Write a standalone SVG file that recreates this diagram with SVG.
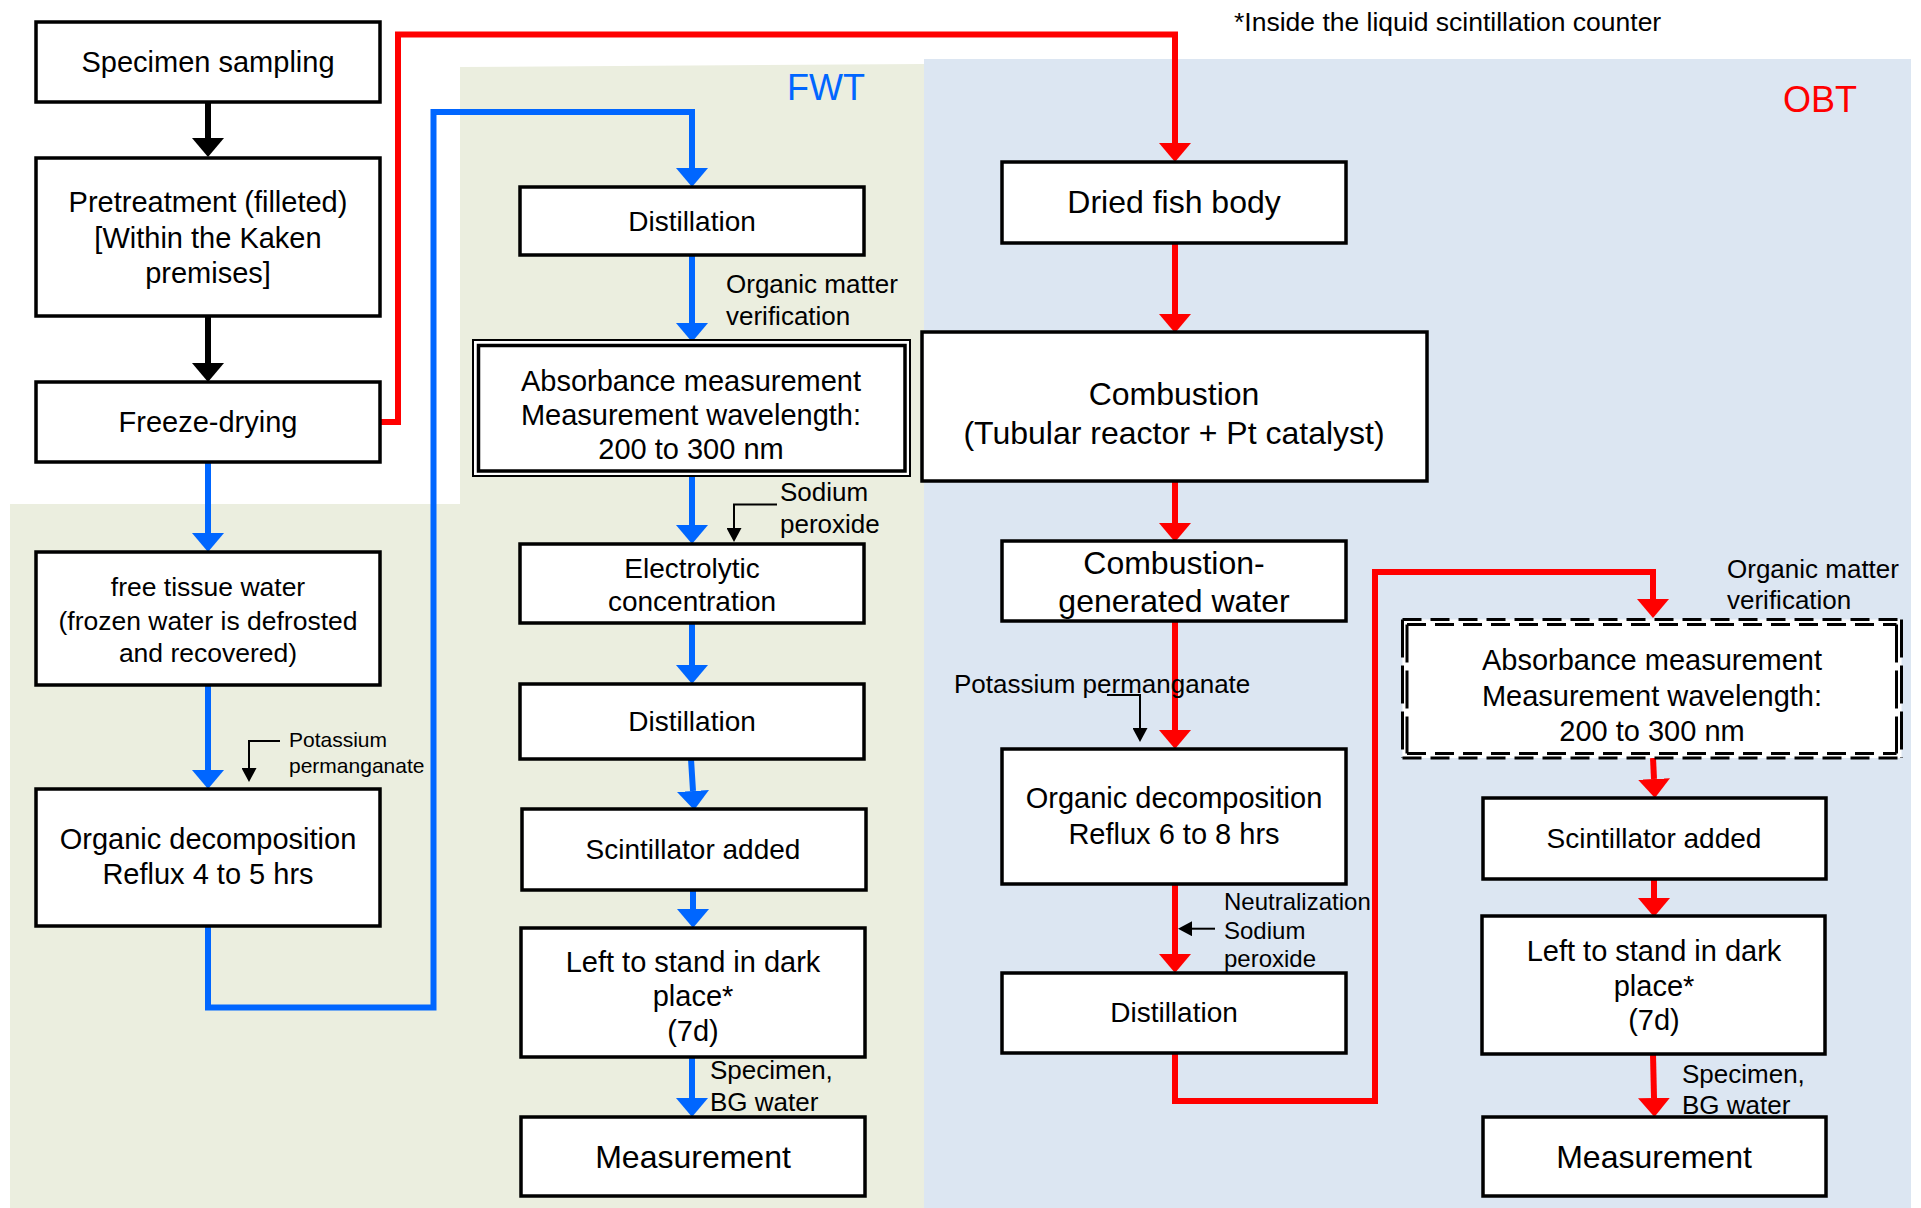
<svg xmlns="http://www.w3.org/2000/svg" width="1921" height="1208" viewBox="0 0 1921 1208">
  <style>
    text { font-family: "Liberation Sans", Arial, sans-serif; fill: #000; }
    .c { text-anchor: middle; }
    .f32 { font-size: 32px; }
    .f29 { font-size: 29px; }
    .f28 { font-size: 28px; }
    .f265 { font-size: 26.5px; }
    .n26 { font-size: 26px; }
    .n24 { font-size: 24px; }
    .n21 { font-size: 21px; }
    .box { fill: #fff; stroke: #000; stroke-width: 3.5; }
    .blk { fill: none; stroke: #000; stroke-width: 6; }
    .blu { fill: none; stroke: #0066ff; stroke-width: 6; }
    .red { fill: none; stroke: #ff0000; stroke-width: 6; }
    .thin { fill: none; stroke: #000; stroke-width: 2; }
    .dashH { fill: none; stroke: #000; stroke-width: 3; stroke-dasharray: 19 9; }
    .dashV { fill: none; stroke: #000; stroke-width: 3; stroke-dasharray: 38 8; }
  </style>
  <defs>
    <marker id="hBlk" markerUnits="userSpaceOnUse" markerWidth="19" markerHeight="32" refX="0" refY="16" orient="auto">
      <path d="M0,0 L19,16 L0,32 z" fill="#000"/>
    </marker>
    <marker id="hBlu" markerUnits="userSpaceOnUse" markerWidth="19" markerHeight="32" refX="0" refY="16" orient="auto">
      <path d="M0,0 L19,16 L0,32 z" fill="#0066ff"/>
    </marker>
    <marker id="hRed" markerUnits="userSpaceOnUse" markerWidth="19" markerHeight="32" refX="0" refY="16" orient="auto">
      <path d="M0,0 L19,16 L0,32 z" fill="#ff0000"/>
    </marker>
    <marker id="hThin" markerUnits="userSpaceOnUse" markerWidth="14" markerHeight="15" refX="0" refY="7.5" orient="auto">
      <path d="M0,0 L14,7.5 L0,15 z" fill="#000"/>
    </marker>
  </defs>

  <!-- background panels -->
  <rect width="1921" height="1208" fill="#fff"/>
  <polygon id="fwt-panel" points="10,504 460,504 460,67 924,64 924,1208 10,1208" fill="#ebeedf"/>
  <rect id="obt-panel" x="924" y="59" width="987" height="1149" fill="#dce6f2"/>

  <!-- labels -->
  <text x="787" y="100" style="font-size:36px;fill:#0066ff">FWT</text>
  <text x="1783" y="112" style="font-size:36px;fill:#ff0000">OBT</text>
  <text x="1234" y="31" style="font-size:26.5px">*Inside the liquid scintillation counter</text>

  <!-- connectors -->
  <g id="connectors">
    <!-- sample preparation -->
    <line class="blk" x1="208" y1="102" x2="208" y2="138" marker-end="url(#hBlk)"/>
    <line class="blk" x1="208" y1="316" x2="208" y2="363" marker-end="url(#hBlk)"/>
    <!-- FWT route -->
    <line class="blu" x1="208" y1="462" x2="208" y2="533" marker-end="url(#hBlu)"/>
    <line class="blu" x1="208" y1="685" x2="208" y2="770" marker-end="url(#hBlu)"/>
    <path class="blu" stroke-linejoin="miter" d="M208,926 V1007.5 H433.5 V112 H692 V168" marker-end="url(#hBlu)"/>
    <line class="blu" x1="692" y1="255" x2="692" y2="323" marker-end="url(#hBlu)"/>
    <line class="blu" x1="692" y1="476" x2="692" y2="525" marker-end="url(#hBlu)"/>
    <line class="blu" x1="692" y1="623" x2="692" y2="665" marker-end="url(#hBlu)"/>
    <line class="blu" x1="691" y1="759" x2="693" y2="791" marker-end="url(#hBlu)"/>
    <line class="blu" x1="693" y1="890" x2="693" y2="909" marker-end="url(#hBlu)"/>
    <line class="blu" x1="692" y1="1057" x2="692" y2="1098" marker-end="url(#hBlu)"/>
    <!-- OBT route -->
    <path class="red" stroke-linejoin="miter" d="M380,422 H398 V34.5 H1175 V143" marker-end="url(#hRed)"/>
    <line class="red" x1="1175" y1="243" x2="1175" y2="314" marker-end="url(#hRed)"/>
    <line class="red" x1="1175" y1="481" x2="1175" y2="523" marker-end="url(#hRed)"/>
    <line class="red" x1="1175" y1="621" x2="1175" y2="730" marker-end="url(#hRed)"/>
    <line class="red" x1="1175" y1="884" x2="1175" y2="954" marker-end="url(#hRed)"/>
    <path class="red" stroke-linejoin="miter" d="M1175,1053 V1101 H1375 V572 H1653 V599" marker-end="url(#hRed)"/>
    <line class="red" x1="1653" y1="758" x2="1654" y2="779" marker-end="url(#hRed)"/>
    <line class="red" x1="1654" y1="879" x2="1654" y2="898" marker-end="url(#hRed)"/>
    <line class="red" x1="1653" y1="1054" x2="1654" y2="1098" marker-end="url(#hRed)"/>
    <!-- reagent additions -->
    <path class="thin" d="M280,741 H249 V768" marker-end="url(#hThin)"/>
    <path class="thin" d="M777,504.5 H734 V528" marker-end="url(#hThin)"/>
    <path class="thin" d="M1107,695 H1140 V728" marker-end="url(#hThin)"/>
    <path class="thin" d="M1215,928.7 H1192" marker-end="url(#hThin)"/>
  </g>

  <!-- common steps -->
  <g id="specimen-sampling">
    <rect class="box" x="36" y="22" width="344" height="80"/>
    <text class="c f29" x="208" y="72">Specimen sampling</text>
  </g>
  <g id="pretreatment">
    <rect class="box" x="36" y="158" width="344" height="158"/>
    <text class="c f29" x="208" y="212">Pretreatment (filleted)</text>
    <text class="c f29" x="208" y="248">[Within the Kaken</text>
    <text class="c f29" x="208" y="283">premises]</text>
  </g>
  <g id="freeze-drying">
    <rect class="box" x="36" y="382" width="344" height="80"/>
    <text class="c f29" x="208" y="432">Freeze-drying</text>
  </g>

  <!-- FWT steps -->
  <g id="free-tissue-water">
    <rect class="box" x="36" y="552" width="344" height="133"/>
    <text class="c f265" x="208" y="596">free tissue water</text>
    <text class="c f265" x="208" y="630">(frozen water is defrosted</text>
    <text class="c f265" x="208" y="662">and recovered)</text>
  </g>
  <g id="fwt-organic-decomposition">
    <rect class="box" x="36" y="789" width="344" height="137"/>
    <text class="c f29" x="208" y="849">Organic decomposition</text>
    <text class="c f29" x="208" y="884">Reflux 4 to 5 hrs</text>
  </g>
  <text id="fwt-kmno4" class="n21" x="289"><tspan x="289" y="747">Potassium</tspan><tspan x="289" y="773">permanganate</tspan></text>

  <g id="fwt-distillation-1">
    <rect class="box" x="520" y="187" width="344" height="68"/>
    <text class="c f28" x="692" y="231">Distillation</text>
  </g>
  <text id="fwt-verification" class="n26"><tspan x="726" y="293">Organic matter</tspan><tspan x="726" y="325">verification</tspan></text>
  <g id="fwt-absorbance">
    <rect x="473" y="340" width="437" height="136" fill="#fff" stroke="#000" stroke-width="2"/>
    <rect x="478.5" y="345.5" width="426.5" height="125.5" fill="none" stroke="#000" stroke-width="3.5"/>
    <text class="c f29" x="691" y="391">Absorbance measurement</text>
    <text class="c f29" x="691" y="425">Measurement wavelength:</text>
    <text class="c f29" x="691" y="459">200 to 300 nm</text>
  </g>
  <text id="fwt-na2o2" class="n26"><tspan x="780" y="501">Sodium</tspan><tspan x="780" y="533">peroxide</tspan></text>
  <g id="fwt-electrolytic">
    <rect class="box" x="520" y="544" width="344" height="79"/>
    <text class="c f28" x="692" y="578">Electrolytic</text>
    <text class="c f28" x="692" y="611">concentration</text>
  </g>
  <g id="fwt-distillation-2">
    <rect class="box" x="520" y="684" width="344" height="75"/>
    <text class="c f28" x="692" y="731">Distillation</text>
  </g>
  <g id="fwt-scintillator">
    <rect class="box" x="522" y="809" width="344" height="81"/>
    <text class="c f28" x="693" y="859">Scintillator added</text>
  </g>
  <g id="fwt-dark-stand">
    <rect class="box" x="521" y="928" width="344" height="129"/>
    <text class="c f29" x="693" y="972">Left to stand in dark</text>
    <text class="c f29" x="693" y="1006">place*</text>
    <text class="c f29" x="693" y="1041">(7d)</text>
  </g>
  <text id="fwt-samples" class="n26"><tspan x="710" y="1079">Specimen,</tspan><tspan x="710" y="1111">BG water</tspan></text>
  <g id="fwt-measurement">
    <rect class="box" x="521" y="1117" width="344" height="79"/>
    <text class="c f32" x="693" y="1168">Measurement</text>
  </g>

  <!-- OBT steps -->
  <g id="dried-fish-body">
    <rect class="box" x="1002" y="162" width="344" height="81"/>
    <text class="c f32" x="1174" y="213">Dried fish body</text>
  </g>
  <g id="combustion">
    <rect class="box" x="922" y="332" width="505" height="149"/>
    <text class="c f32" x="1174" y="405">Combustion</text>
    <text class="c f32" x="1174" y="444">(Tubular reactor + Pt catalyst)</text>
  </g>
  <g id="combustion-water">
    <rect class="box" x="1002" y="541" width="344" height="80"/>
    <text class="c f32" x="1174" y="574">Combustion-</text>
    <text class="c f32" x="1174" y="612">generated water</text>
  </g>
  <text id="obt-kmno4" class="n26" x="954" y="693">Potassium permanganate</text>
  <g id="obt-organic-decomposition">
    <rect class="box" x="1002" y="749" width="344" height="135"/>
    <text class="c f29" x="1174" y="808">Organic decomposition</text>
    <text class="c f29" x="1174" y="844">Reflux 6 to 8 hrs</text>
  </g>
  <text id="obt-neutralization" class="n24"><tspan x="1224" y="910">Neutralization</tspan><tspan x="1224" y="938.5">Sodium</tspan><tspan x="1224" y="967">peroxide</tspan></text>
  <g id="obt-distillation">
    <rect class="box" x="1002" y="973" width="344" height="80"/>
    <text class="c f28" x="1174" y="1022">Distillation</text>
  </g>
  <text id="obt-verification" class="n26"><tspan x="1727" y="578">Organic matter</tspan><tspan x="1727" y="609">verification</tspan></text>
  <g id="obt-absorbance">
    <rect x="1402.5" y="619.5" width="499" height="138.5" fill="#fff"/>
    <line class="dashH" x1="1402.5" y1="619.5" x2="1901.5" y2="619.5"/>
    <line class="dashH" x1="1402.5" y1="758" x2="1901.5" y2="758"/>
    <line class="dashV" x1="1402.5" y1="619.5" x2="1402.5" y2="758"/>
    <line class="dashV" x1="1901.5" y1="619.5" x2="1901.5" y2="758"/>
    <line class="dashH" x1="1407" y1="624.5" x2="1896.5" y2="624.5"/>
    <line class="dashH" x1="1407" y1="753.5" x2="1896.5" y2="753.5"/>
    <line class="dashV" x1="1407" y1="624.5" x2="1407" y2="753.5"/>
    <line class="dashV" x1="1896.5" y1="624.5" x2="1896.5" y2="753.5"/>
    <text class="c f29" x="1652" y="670">Absorbance measurement</text>
    <text class="c f29" x="1652" y="706">Measurement wavelength:</text>
    <text class="c f29" x="1652" y="741">200 to 300 nm</text>
  </g>
  <g id="obt-scintillator">
    <rect class="box" x="1483" y="798" width="343" height="81"/>
    <text class="c f28" x="1654" y="848">Scintillator added</text>
  </g>
  <g id="obt-dark-stand">
    <rect class="box" x="1482" y="916" width="343" height="138"/>
    <text class="c f29" x="1654" y="961">Left to stand in dark</text>
    <text class="c f29" x="1654" y="996">place*</text>
    <text class="c f29" x="1654" y="1030">(7d)</text>
  </g>
  <text id="obt-samples" class="n26"><tspan x="1682" y="1083">Specimen,</tspan><tspan x="1682" y="1114">BG water</tspan></text>
  <g id="obt-measurement">
    <rect class="box" x="1483" y="1117" width="343" height="79"/>
    <text class="c f32" x="1654" y="1168">Measurement</text>
  </g>
</svg>
